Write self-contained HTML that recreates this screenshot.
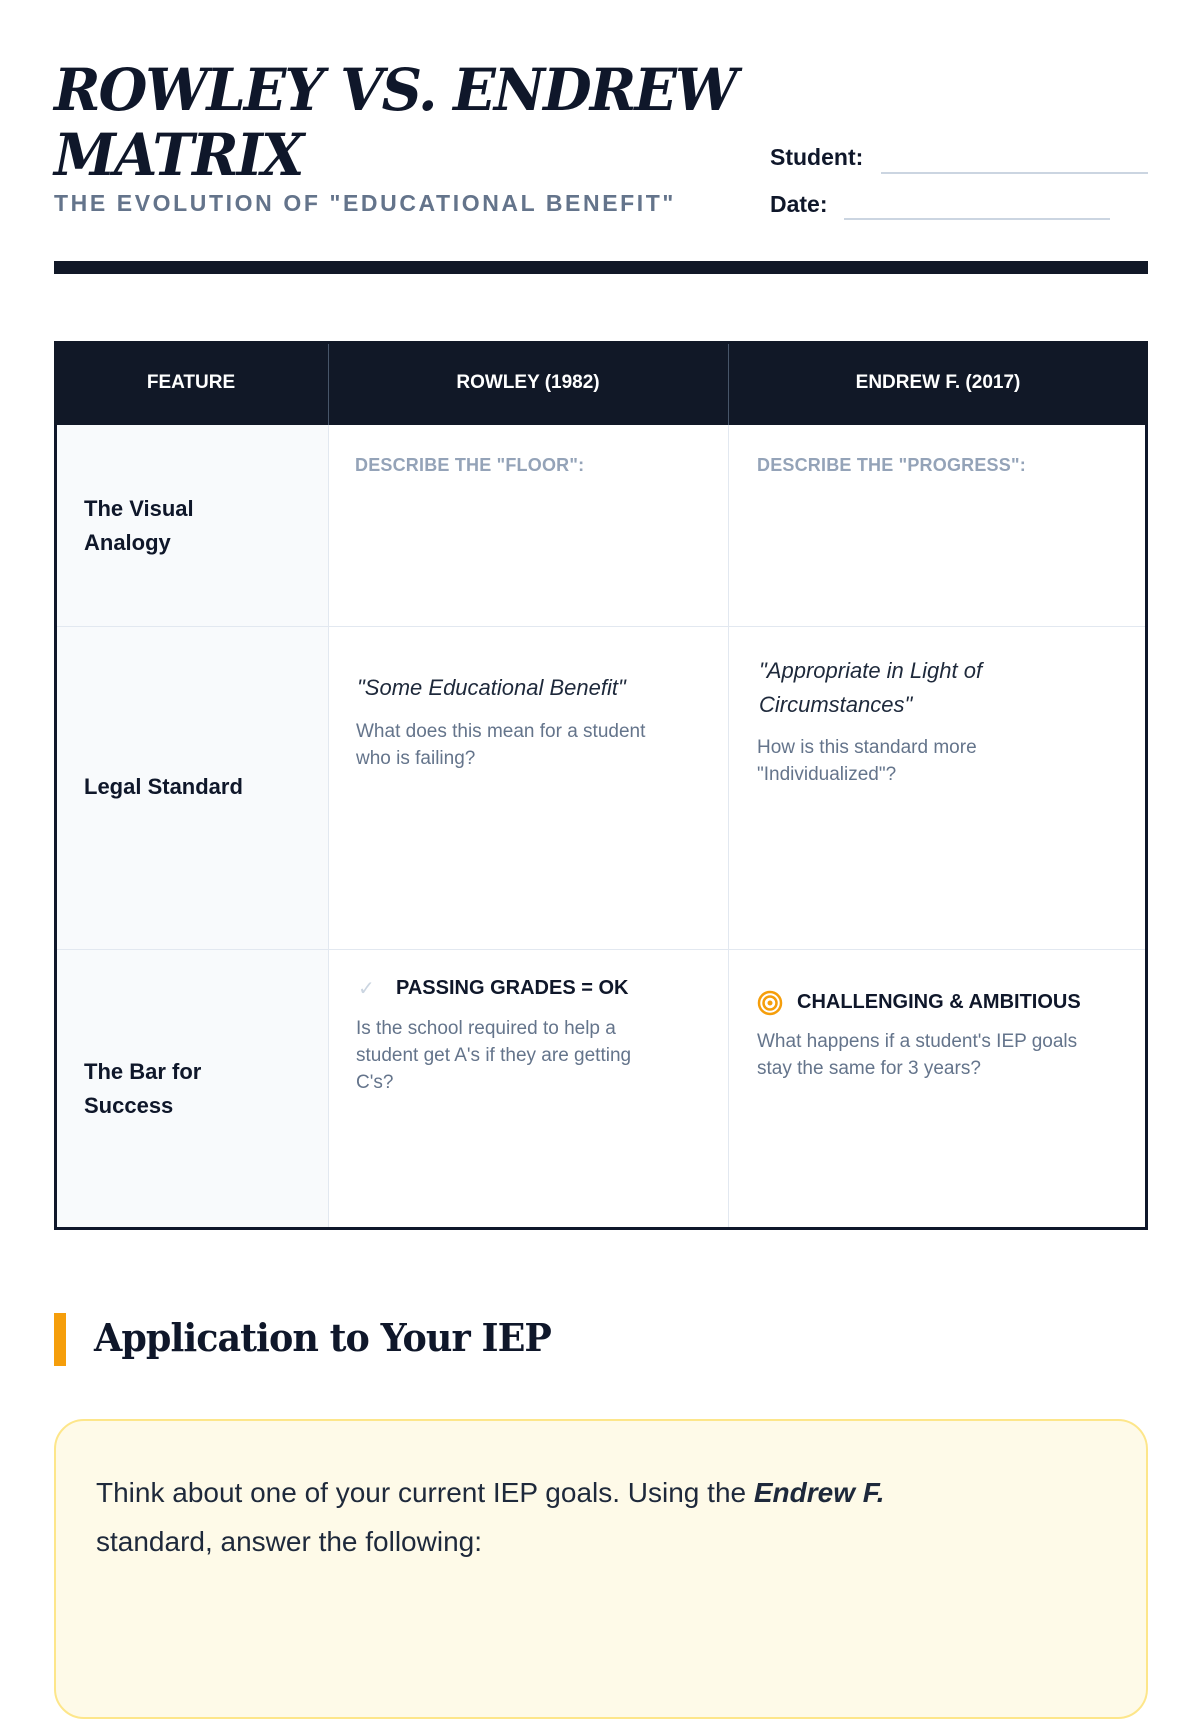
<!DOCTYPE html>
<html><head><meta charset="utf-8"><style>
*{margin:0;padding:0;box-sizing:border-box}
body{width:1200px;height:1600px;background:#fff;position:relative;overflow:hidden;font-family:"Liberation Sans",sans-serif;color:#0f172a}
.a{position:absolute;white-space:nowrap}
.t{font-family:"DejaVu Serif","Liberation Serif",serif;font-weight:bold;font-style:italic;font-size:58px;line-height:66px;letter-spacing:-2px;transform:scaleX(0.965);transform-origin:left}
.lab{font-size:22px;font-weight:bold;line-height:34px}
.ph{font-size:18px;font-weight:bold;color:#94a3b8;letter-spacing:0.2px}
.q{font-size:22px;font-style:italic;line-height:34px;color:#1e293b}
.g{font-size:19px;color:#64748b;line-height:27px}
.hd{font-size:19px;font-weight:bold;color:#fff;text-align:center}
</style></head><body>
<div class="a t" style="left:54px;top:57px">ROWLEY VS. ENDREW</div>
<div class="a t" style="left:54px;top:122px">MATRIX</div>
<div class="a" style="left:54px;top:190px;font-size:23px;font-weight:bold;color:#64748b;letter-spacing:2.6px">THE EVOLUTION OF "EDUCATIONAL BENEFIT"</div>
<div class="a" style="left:770px;top:144px;font-size:23px;font-weight:bold">Student:</div>
<div class="a" style="left:881px;top:172px;width:267px;height:2px;background:#cbd5e1"></div>
<div class="a" style="left:770px;top:191px;font-size:23px;font-weight:bold">Date:</div>
<div class="a" style="left:844px;top:218px;width:266px;height:2px;background:#cbd5e1"></div>
<div class="a" style="left:54px;top:261px;width:1094px;height:13px;background:#111827"></div>

<div class="a" style="left:54px;top:341px;width:1094px;height:889px;border:3px solid #0f172a;background:#fff"></div>
<div class="a" style="left:54px;top:341px;width:1094px;height:84px;background:#111827"></div>
<div class="a" style="left:57px;top:425px;width:271px;height:802px;background:#f8fafc"></div>
<div class="a" style="left:328px;top:344px;width:1px;height:883px;background:#e2e8f0"></div>
<div class="a" style="left:728px;top:344px;width:1px;height:883px;background:#e2e8f0"></div>
<div class="a" style="left:328px;top:344px;width:1px;height:81px;background:#475569"></div>
<div class="a" style="left:728px;top:344px;width:1px;height:81px;background:#475569"></div>
<div class="a" style="left:57px;top:626px;width:1088px;height:1px;background:#e2e8f0"></div>
<div class="a" style="left:57px;top:949px;width:1088px;height:1px;background:#e2e8f0"></div>

<div class="a hd" style="left:54px;top:372px;width:274px">FEATURE</div>
<div class="a hd" style="left:328px;top:372px;width:400px">ROWLEY (1982)</div>
<div class="a hd" style="left:728px;top:372px;width:420px">ENDREW F. (2017)</div>

<div class="a lab" style="left:84px;top:492px">The Visual<br>Analogy</div>
<div class="a ph" style="left:355px;top:455px">DESCRIBE THE "FLOOR":</div>
<div class="a ph" style="left:757px;top:455px">DESCRIBE THE "PROGRESS":</div>

<div class="a lab" style="left:84px;top:770px">Legal Standard</div>
<div class="a q" style="left:357px;top:671px">"Some Educational Benefit"</div>
<div class="a g" style="left:356px;top:718px">What does this mean for a student<br>who is failing?</div>
<div class="a q" style="left:759px;top:654px">"Appropriate in Light of<br>Circumstances"</div>
<div class="a g" style="left:757px;top:734px">How is this standard more<br>"Individualized"?</div>

<div class="a lab" style="left:84px;top:1055px;line-height:34px">The Bar for<br>Success</div>
<div class="a" style="left:358px;top:976px;font-size:20px;color:#cbd5e1">✓</div>
<div class="a" style="left:396px;top:977px;font-size:20px;font-weight:bold">PASSING GRADES = OK</div>
<div class="a g" style="left:356px;top:1015px">Is the school required to help a<br>student get A's if they are getting<br>C's?</div>
<svg class="a" style="left:757px;top:990px" width="26" height="26"><circle cx="13" cy="13" r="11" fill="none" stroke="#f59e0b" stroke-width="2.5"/><circle cx="13" cy="13" r="6.5" fill="none" stroke="#f59e0b" stroke-width="2.5"/><circle cx="13" cy="13" r="2.5" fill="#f59e0b"/></svg>
<div class="a" style="left:797px;top:991px;font-size:20px;font-weight:bold">CHALLENGING &amp; AMBITIOUS</div>
<div class="a g" style="left:757px;top:1028px">What happens if a student's IEP goals<br>stay the same for 3 years?</div>

<div class="a" style="left:54px;top:1313px;width:12px;height:53px;background:#f59e0b"></div>
<div class="a" style="left:94px;top:1315px;font-family:'DejaVu Serif','Liberation Serif',serif;font-weight:bold;font-size:38px;letter-spacing:-1px;transform:scaleX(0.96);transform-origin:left">Application to Your IEP</div>
<div class="a" style="left:54px;top:1419px;width:1094px;height:300px;border:2px solid #fde68a;border-radius:30px;background:#fefae8"></div>
<div class="a" style="left:96px;top:1468px;font-size:28px;line-height:49px;color:#1e293b">Think about one of your current IEP goals. Using the <b><i>Endrew F.</i></b><br>standard, answer the following:</div>
</body></html>
